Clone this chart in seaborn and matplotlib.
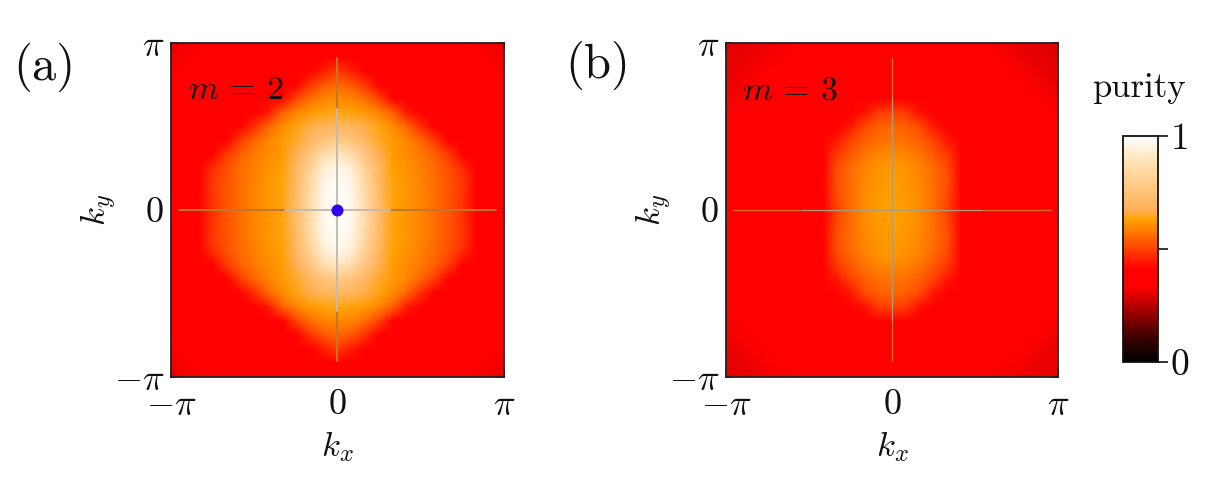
import numpy as np
import matplotlib
matplotlib.use('Agg')
import matplotlib.pyplot as plt
import seaborn as sns
from matplotlib.colors import LinearSegmentedColormap

# purity, one quadrant: rows ky=0..pi, columns kx=0..pi
purity_a = [
    [1.00, .97, .85, .72, .635, .615, .59, .56, .525, .48, .39, .36, .35],
    [1.00, .97, .85, .72, .635, .615, .59, .56, .525, .485, .40, .36, .35],
    [ .99, .96, .84, .71, .635, .615, .59, .56, .525, .49, .41, .36, .35],
    [ .97, .93, .81, .70, .63, .61, .585, .555, .52, .47, .375, .35, .35],
    [ .90, .86, .76, .67, .62, .60, .575, .54, .49, .40, .36, .35, .35],
    [ .78, .75, .70, .65, .62, .59, .55, .49, .385, .36, .35, .35, .35],
    [ .70, .69, .665, .635, .60, .55, .47, .375, .35, .35, .35, .35, .35],
    [ .64, .635, .62, .59, .54, .44, .37, .35, .35, .35, .35, .35, .35],
    [ .60, .59, .56, .50, .41, .36, .35, .35, .35, .35, .35, .35, .34],
    [ .55, .53, .48, .39, .36, .35, .35, .35, .35, .35, .35, .34, .335],
    [ .49, .45, .38, .35, .35, .35, .35, .35, .35, .35, .34, .335, .325],
    [ .41, .37, .35, .35, .35, .35, .35, .35, .35, .34, .335, .325, .315],
    [ .35, .35, .35, .35, .35, .35, .35, .35, .34, .335, .325, .315, .30],
]
purity_b = [
    [.63, .62, .60, .56, .50, .375, .36, .35, .35, .35, .35, .35, .35],
    [.63, .62, .60, .56, .51, .385, .36, .35, .35, .35, .35, .35, .35],
    [.625, .615, .595, .56, .52, .40, .36, .35, .35, .35, .35, .35, .35],
    [.62, .61, .59, .555, .51, .40, .36, .35, .35, .35, .35, .35, .35],
    [.60, .59, .57, .53, .49, .385, .36, .35, .35, .35, .35, .35, .35],
    [.57, .56, .54, .50, .44, .37, .35, .35, .35, .35, .35, .35, .35],
    [.55, .54, .51, .44, .37, .36, .35, .35, .35, .35, .35, .35, .35],
    [.50, .49, .43, .375, .36, .35, .35, .35, .35, .35, .35, .35, .35],
    [.39, .385, .37, .36, .35, .35, .35, .35, .35, .35, .35, .35, .35],
    [.35, .35, .35, .35, .35, .35, .35, .35, .35, .35, .35, .35, .35],
    [.35, .35, .35, .35, .35, .35, .35, .35, .35, .35, .35, .35, .35],
    [.35, .35, .35, .35, .35, .35, .35, .35, .35, .35, .35, .35, .35],
    [.35, .35, .35, .35, .35, .35, .35, .35, .35, .35, .35, .35, .35],
]
# panel b is not quite mirror symmetric in its corners
corner_tl = [
    [.295, .30, .305, .31, .32],
    [.30, .305, .31, .32, .33],
    [.305, .31, .32, .33, .34],
    [.31, .32, .33, .34, .35],
    [.32, .33, .34, .35, .35],
]
corner_tr = [
    [.315, .305, .30, .295, .29],
    [.325, .315, .305, .30, .295],
    [.34, .325, .315, .305, .30],
    [.35, .34, .325, .315, .305],
    [.35, .35, .34, .325, .315],
]
corner_bl = [
    [.325, .33, .34, .35, .35],
    [.315, .325, .33, .34, .35],
    [.305, .315, .325, .33, .34],
    [.30, .305, .315, .325, .33],
    [.295, .30, .305, .315, .32],
]
corner_br = [
    [.35, .35, .34, .33, .325],
    [.35, .34, .33, .325, .315],
    [.34, .33, .325, .315, .31],
    [.33, .325, .315, .31, .305],
    [.32, .315, .31, .305, .30],
]

cbar_ticks = [0, 0.5, 1]
cbar_labels = ['0', '', '1']
tick_k = [-np.pi, -np.pi / 2, 0, np.pi / 2, np.pi]
tick_labels = [r'$-\pi$', '', '$0$', '', r'$\pi$']
tick_labels_y = [r'$\pi$', '', '$0$', '', r'$-\pi$']

W, H = 1220, 491
colors = [(0, (0, 0, 0)), (.10, (.22, 0, 0)), (.33, (1, 0, 0)), (.41, (1, 0, 0)),
          (.63, (1, .63, 0)), (.67, (1, .69, .33)), (.89, (1, .89, .72)), (1, (1, 1, 1))]
purity_cmap = LinearSegmentedColormap.from_list('purity', colors, N=512)

sns.set_theme(style='white')
plt.rcParams['mathtext.fontset'] = 'cm'
plt.rcParams['font.family'] = ['cmr10', 'DejaVu Serif']
plt.rcParams['axes.formatter.use_mathtext'] = True


def full_grid(q):
    q = np.array(q)
    upper = np.hstack([q[:, :0:-1], q])
    return np.vstack([upper[:0:-1], upper])


def px_axes(left, right, top, bottom):
    return fig.add_axes([left / W, 1 - bottom / H, (right - left) / W, (bottom - top) / H])


def to_idx(k, n):
    return (np.asarray(k) + np.pi) / (2 * np.pi) * (n - 1)


def draw_panel(ax, grid, cax=None):
    n = grid.shape[0]
    sns.heatmap(grid, ax=ax, cmap=purity_cmap, vmin=0, vmax=1, shading='gouraud',
                cbar=cax is not None, cbar_ax=cax, xticklabels=False, yticklabels=False,
                square=False)
    ax.set_xlim(0, n - 1)
    ax.set_ylim(n - 1, 0)
    for s in ax.spines.values():
        s.set_visible(True)
        s.set_linewidth(1.3)
        s.set_color('#222222')
    ax.set_xticks(to_idx(tick_k, n))
    ax.set_xticklabels(tick_labels, fontsize=26, color='#111111')
    ax.set_yticks(to_idx(tick_k, n))
    ax.set_yticklabels(tick_labels_y, fontsize=26, color='#111111')
    ax.tick_params(direction='in', length=5, width=1.2, color='#111111', top=True, right=True,
                   bottom=True, left=True)
    ax.tick_params(axis='x', pad=9)
    ax.tick_params(axis='y', labelrotation=0, pad=5)
    ax.set_xlabel('$k_x$', fontsize=25, labelpad=6, color='#111111')
    ax.set_ylabel('$k_y$', fontsize=25, labelpad=-4, color='#111111')
    return n


fig = plt.figure(figsize=(W / 100, H / 100), dpi=100)

ax_a = px_axes(171, 504, 43, 376.5)
ax_b = px_axes(726, 1058, 43, 376.5)
cax = px_axes(1123, 1158, 136, 361.5)

grid_a = full_grid(purity_a)
grid_b = full_grid(purity_b)
grid_b[:5, :5] = corner_tl
grid_b[:5, -5:] = corner_tr
grid_b[-5:, :5] = corner_bl
grid_b[-5:, -5:] = corner_br

n = draw_panel(ax_a, grid_a, cax)
draw_panel(ax_b, grid_b)

mid = to_idx(0, n)
# the two thin lines through k=0, orange over the red part and grey further in
for ax, lw, outer, inner, cut_x, cut_y in [(ax_a, 1.4, '#c4762a', '#c4bcb0', 1.0, 1.9),
                                           (ax_b, 0.9, '#d8701a', '#b09c78', 1.7, 2.1)]:
    for sign in [-1, 1]:
        ax.plot(to_idx([sign * 3.0, sign * cut_x], n), [mid, mid], color=outer, lw=lw)
        ax.plot(to_idx([sign * cut_x, 0], n), [mid, mid], color=inner, lw=lw)
        ax.plot([mid, mid], to_idx([sign * 2.85, sign * cut_y], n), color=outer, lw=lw)
        ax.plot([mid, mid], to_idx([sign * cut_y, 0], n), color=inner, lw=lw)

ax_a.scatter([mid], [mid], s=75, color='#3300ee', zorder=5, linewidths=0)

ax_a.text(to_idx(-2.83, n), to_idx(-2.24, n), '$m\\,=\\,2$', fontsize=24.5, color='#111111', va='center')
ax_b.text(to_idx(-2.83, n), to_idx(-2.24, n), '$m\\,=\\,3$', fontsize=24.5, color='#111111', va='center')

fig.text(13 / W, 1 - 67 / H, '(a)', fontsize=35, va='center', color='#111111')
fig.text(565 / W, 1 - 65 / H, '(b)', fontsize=35, va='center', color='#111111')
fig.text(1138.5 / W, 1 - 88 / H, 'purity', fontsize=25, va='center', ha='center', color='#111111')

cbar = ax_a.collections[0].colorbar
cbar.set_ticks(cbar_ticks)
cbar.set_ticklabels(cbar_labels, fontsize=27, color='#111111')
cbar.ax.minorticks_off()
cbar.ax.tick_params(direction='out', length=7, width=1.2, color='#111111', pad=2, right=True)
cbar.outline.set_linewidth(1.3)
cbar.outline.set_edgecolor('#111111')

fig.savefig('out.png', dpi=100)
